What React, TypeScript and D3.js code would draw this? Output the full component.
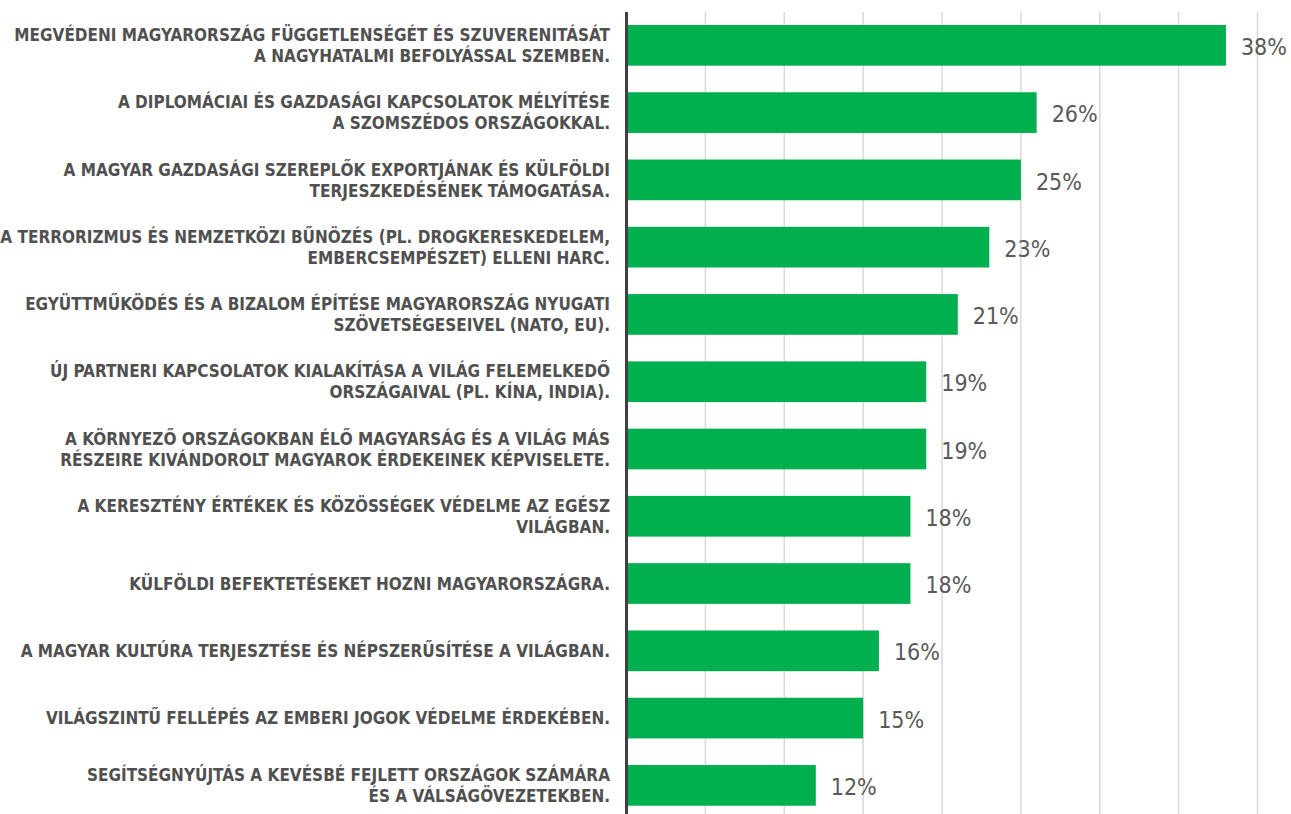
import * as d3 from "d3";
import { useEffect, useRef } from "react";

const categories = [
  "MEGVÉDENI MAGYARORSZÁG FÜGGETLENSÉGÉT ÉS SZUVERENITÁSÁT\nA NAGYHATALMI BEFOLYÁSSAL SZEMBEN.",
  "A DIPLOMÁCIAI ÉS GAZDASÁGI KAPCSOLATOK MÉLYÍTÉSE\nA SZOMSZÉDOS ORSZÁGOKKAL.",
  "A MAGYAR GAZDASÁGI SZEREPLŐK EXPORTJÁNAK ÉS KÜLFÖLDI\nTERJESZKEDÉSÉNEK TÁMOGATÁSA.",
  "A TERRORIZMUS ÉS NEMZETKÖZI BŰNÖZÉS (PL. DROGKERESKEDELEM,\nEMBERCSEMPÉSZET) ELLENI HARC.",
  "EGYÜTTMŰKÖDÉS ÉS A BIZALOM ÉPÍTÉSE MAGYARORSZÁG NYUGATI\nSZÖVETSÉGESEIVEL (NATO, EU).",
  "ÚJ PARTNERI KAPCSOLATOK KIALAKÍTÁSA A VILÁG FELEMELKEDŐ\nORSZÁGAIVAL (PL. KÍNA, INDIA).",
  "A KÖRNYEZŐ ORSZÁGOKBAN ÉLŐ MAGYARSÁG ÉS A VILÁG MÁS\nRÉSZEIRE KIVÁNDOROLT MAGYAROK ÉRDEKEINEK KÉPVISELETE.",
  "A KERESZTÉNY ÉRTÉKEK ÉS KÖZÖSSÉGEK VÉDELME AZ EGÉSZ\nVILÁGBAN.",
  "KÜLFÖLDI BEFEKTETÉSEKET HOZNI MAGYARORSZÁGRA.",
  "A MAGYAR KULTÚRA TERJESZTÉSE ÉS NÉPSZERŰSÍTÉSE A VILÁGBAN.",
  "VILÁGSZINTŰ FELLÉPÉS AZ EMBERI JOGOK VÉDELME ÉRDEKÉBEN.",
  "SEGÍTSÉGNYÚJTÁS A KEVÉSBÉ FEJLETT ORSZÁGOK SZÁMÁRA\nÉS A VÁLSÁGÖVEZETEKBEN.",
];
const values = [38, 26, 25, 23, 21, 19, 19, 18, 18, 16, 15, 12];
const gridTicks = [5, 10, 15, 20, 25, 30, 35, 40];

export default function App() {
  const svgRef = useRef<SVGSVGElement>(null);
  const width = 1291;
  const height = 814;

  useEffect(() => {
    const svg = d3.select(svgRef.current);
    svg.selectAll("*").remove();

    const x = d3.scaleLinear([0, 40], [626.5, 1257.5]);
    const y = d3.scaleBand(d3.range(categories.length), [11.7, 819]).paddingInner(0.395).paddingOuter(0.1975);

    // gridlines
    svg.append("g")
      .selectAll("line")
      .data(gridTicks)
      .join("line")
        .attr("x1", d => x(d))
        .attr("x2", d => x(d))
        .attr("y1", 12)
        .attr("y2", height)
        .attr("stroke", "#d9d9d9")
        .attr("stroke-width", 1.5);

    // bars
    svg.append("g")
      .selectAll("rect")
      .data(values)
      .join("rect")
        .attr("x", x(0))
        .attr("y", (d, i) => y(i)!)
        .attr("width", d => x(d) - x(0))
        .attr("height", y.bandwidth())
        .attr("fill", "#00b04f");

    // value labels
    svg.append("g")
      .selectAll("text")
      .data(values)
      .join("text")
        .attr("x", d => x(d) + 15)
        .attr("y", (d, i) => y(i)! + y.bandwidth() / 2)
        .attr("dy", "0.42em")
        .attr("font-family", "'DejaVu Sans Condensed', 'DejaVu Sans'")
        .attr("font-size", 23)
        .attr("fill", "#595959")
        .text(d => `${d}%`);

    // category labels
    const labels = svg.append("g")
      .selectAll("text")
      .data(categories)
      .join("text")
        .attr("text-anchor", "end")
        .attr("font-family", "'DejaVu Sans Condensed', 'DejaVu Sans'")
        .attr("font-weight", "bold")
        .attr("font-size", 17)
        .attr("fill", "#505050");

    labels.each(function (d, i) {
      const lines = d.split("\n");
      const cy = y(i)! + y.bandwidth() / 2;
      const lh = 21;
      d3.select(this)
        .selectAll("tspan")
        .data(lines)
        .join("tspan")
          .attr("x", 610)
          .attr("y", (l, j) => cy + (j - (lines.length - 1) / 2) * lh)
          .attr("dy", "0.36em")
          .text(l => l);
    });

    // axis line
    svg.append("line")
      .attr("x1", x(0))
      .attr("x2", x(0))
      .attr("y1", 12)
      .attr("y2", height)
      .attr("stroke", "#404040")
      .attr("stroke-width", 3);
  }, []);

  return (
    <svg
      ref={svgRef}
      width={width}
      height={height}
      style={{ position: "absolute", left: 0, top: 0, display: "block", background: "#fff" }}
    />
  );
}
